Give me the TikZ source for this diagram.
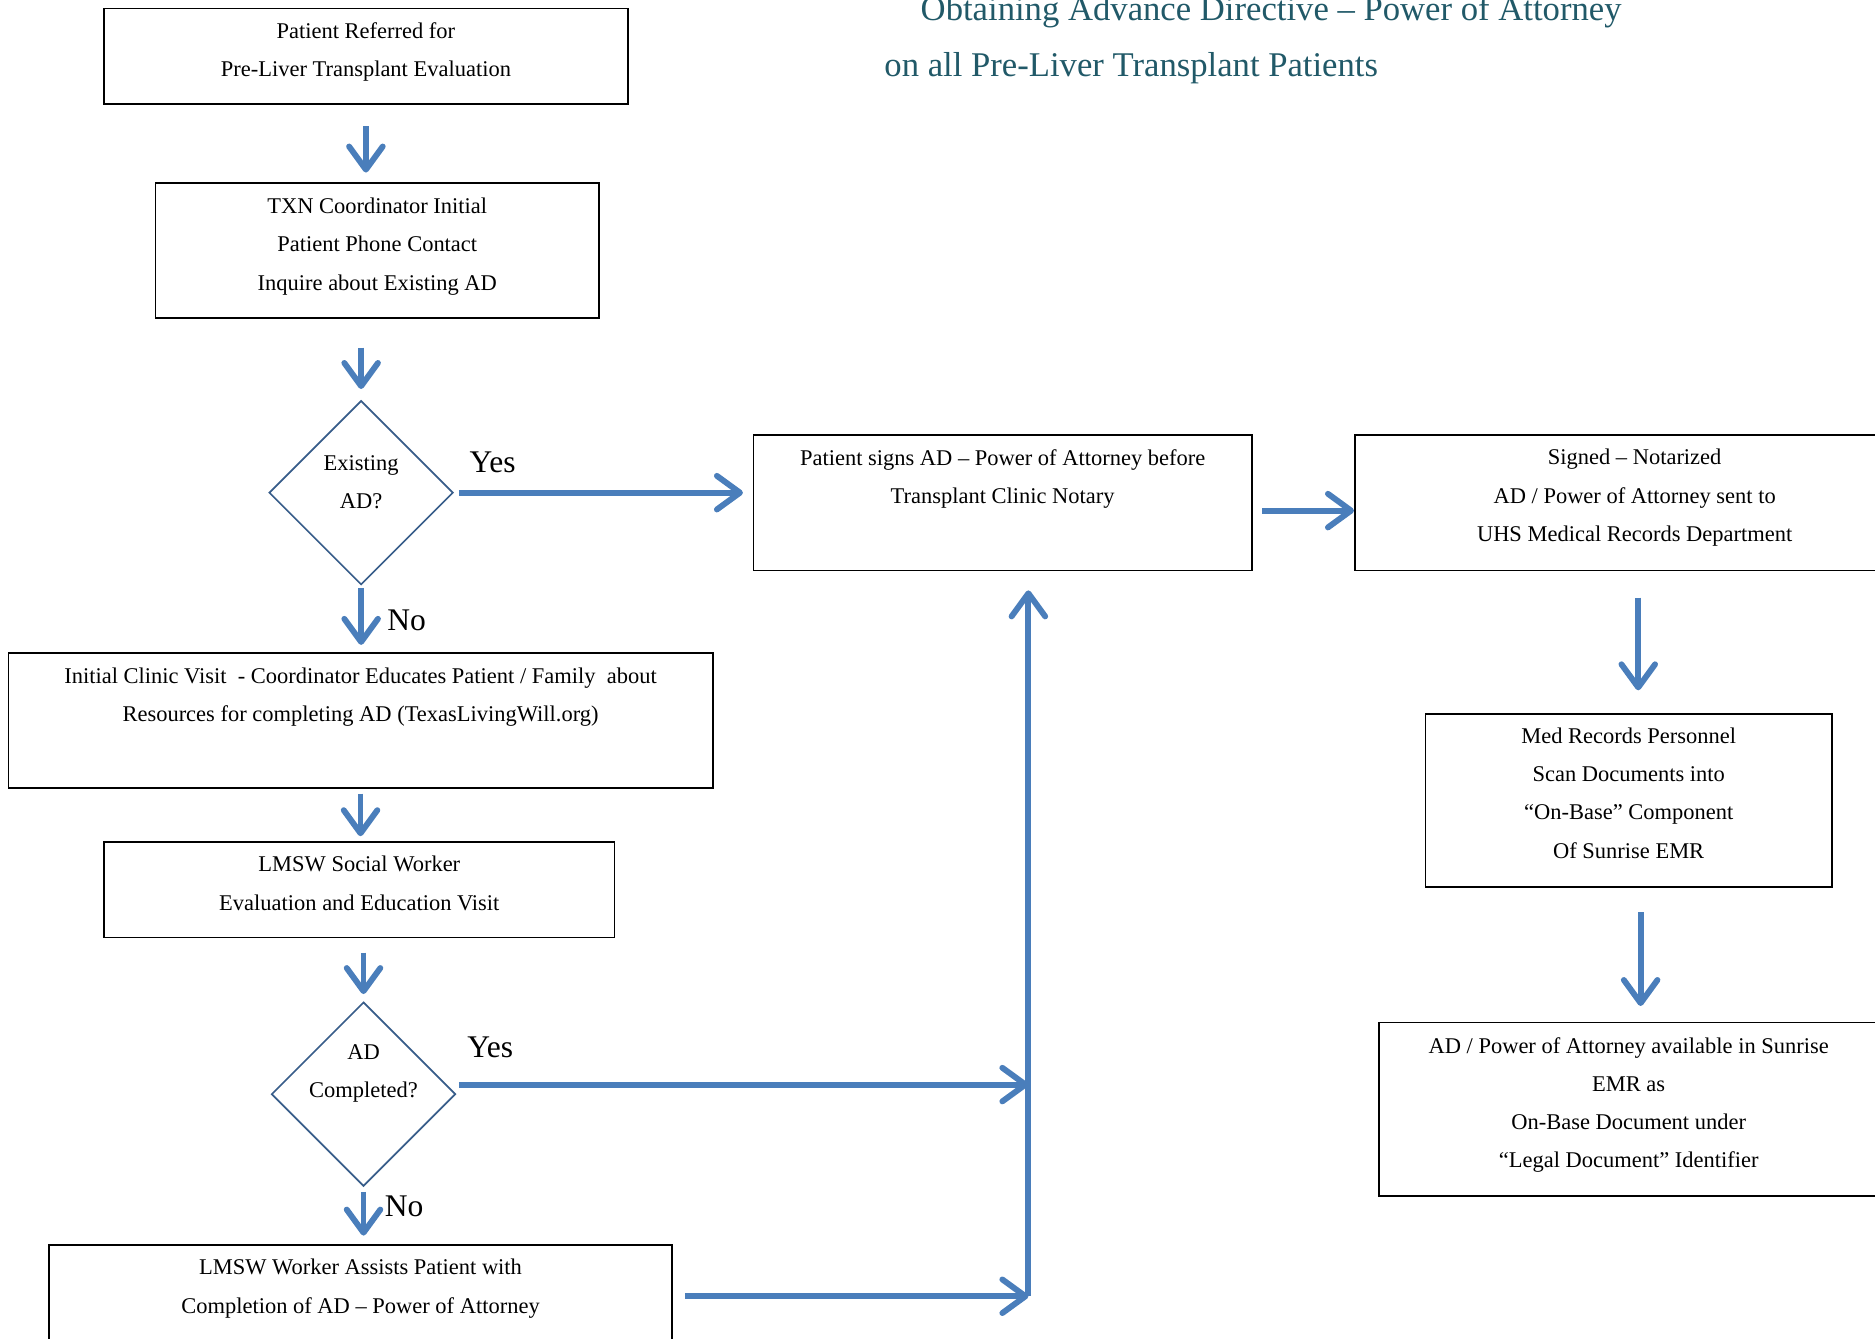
\documentclass[tikz,border=0pt]{standalone}
\usepackage{fontspec}
\setmainfont{Liberation Serif}
\usepackage{tikz}
\usetikzlibrary{positioning,arrows.meta,shapes.geometric}

\definecolor{flowblue}{HTML}{4A7EBB}
\definecolor{edgeblue}{HTML}{385D8A}
\definecolor{titleteal}{HTML}{215968}
\newcommand{\bodyfont}{\fontsize{10.7}{18.2}\selectfont}

\begin{document}
\begin{tikzpicture}[x=0.02cm, y=-0.02cm,
    >={Straight Barb[length=11pt, width=16pt, round]},
    box/.style 2 args={draw, line width=0.8pt, minimum width={#1*0.02cm}, minimum height={#2*0.02cm}, inner sep=0pt, align=center, font=\bodyfont},
    decision/.style={diamond, aspect=1, draw=edgeblue, line width=0.8pt, minimum width=3.08cm, minimum height=3.08cm, inner sep=-30pt, align=center, font=\bodyfont},
    flow/.style={->, draw=flowblue, line width=2.8pt},
    answer/.style={font=\fontsize{15}{18}\selectfont},
    heading/.style={anchor=base, text=titleteal, font=\fontsize{16.5}{20}\selectfont}]
    \useasboundingbox (0,0) rectangle (1568,1119);
    \clip (0,0) rectangle (1568,1119);

    % title
    \node[heading] (title1) at (1063,17) {Obtaining Advance Directive -- Power of Attorney};
    \node[heading] (title2) at (946,64) {on all Pre-Liver Transplant Patients};

    % left column
    \node[box={438}{80}] (referral) at (306,47) {Patient Referred for\\Pre-Liver Transplant Evaluation\\[-12pt]};
    \node[box={371}{113}] (phone) at (315.5,209.5) {TXN Coordinator Initial\\Patient Phone Contact\\Inquire about Existing AD\\[-12pt]};
    \node[decision] (existing) at (302,412) {Existing\\AD?\\[-8pt]};
    \node[box={589}{113}] (educate) at (301.5,602.5) {Initial Clinic Visit~ - Coordinator Educates Patient / Family~ about\\Resources for completing AD (TexasLivingWill.org)\\[6pt]};
    \node[box={427}{80}] (social) at (300.5,744) {LMSW Social Worker\\Evaluation and Education Visit\\[-12pt]};
    \node[decision] (completed) at (304,915) {AD\\Completed?\\[4pt]};
    \node[box={521}{80}] (assist) at (301.5,1081) {LMSW Worker Assists Patient with\\Completion of AD -- Power of Attorney\\[-12pt]};

    % right column
    \node[box={417}{113}] (notary) at (838.5,420.5) {Patient signs AD -- Power of Attorney before\\Transplant Clinic Notary\\[7pt]};
    \node[box={468}{113}] (records) at (1367,420.5) {Signed -- Notarized\\AD / Power of Attorney sent to\\UHS Medical Records Department\\[-11pt]};
    \node[box={340}{145}] (scan) at (1362,669.5) {Med Records Personnel\\Scan Documents into\\``On-Base'' Component\\Of Sunrise EMR\\[-11pt]};
    \node[box={418}{145}] (emr) at (1362,927.5) {AD / Power of Attorney available in Sunrise\\EMR as\\On-Base Document under\\``Legal Document'' Identifier\\[-12pt]};
    \coordinate (merge) at (860,1084);

    % answers
    \node[answer] (yes1) at (412,387) {Yes};
    \node[answer] (no1) at (340,519) {No};
    \node[answer] (yes2) at (410,876) {Yes};
    \node[answer] (no2) at (338,1009) {No};

    % connectors
    \draw[flow, shorten <=0.36cm, shorten >=0.16cm] (referral.south) -- (referral.south |- phone.north);
    \draw[flow, shorten <=0.48cm, shorten >=0.18cm] (existing.north |- phone.south) -- (existing.north);
    \draw[flow, shorten <=0.08cm, shorten >=0.16cm] (existing.east) -- (existing.east -| notary.west);
    \draw[flow, shorten <=0.16cm] ([yshift=-0.13cm]notary.east) -- ([yshift=-0.13cm]records.west);
    \draw[flow, shorten <=0.44cm, shorten >=0.38cm] ([xshift=0.06cm]records.south) -- ([xshift=0.06cm]records.south |- scan.north);
    \draw[flow, shorten <=0.40cm, shorten >=0.26cm] ([xshift=0.1cm]records.south |- scan.south) -- ([xshift=0.1cm]records.south |- emr.north);
    \draw[flow, shorten <=0.04cm, shorten >=0.12cm] (existing.south) -- (existing.south |- educate.north);
    \draw[flow, shorten <=0.08cm, shorten >=0.08cm] (educate.south) -- (educate.south |- social.north);
    \draw[flow, shorten <=0.24cm, shorten >=0.12cm] (completed.north |- social.south) -- (completed.north);
    \draw[flow, shorten <=0.04cm] ([yshift=0.16cm]completed.east) -- ([yshift=0.16cm]completed.east -| merge);
    \draw[flow, shorten <=0.08cm, shorten >=0.14cm] (completed.south) -- (completed.south |- assist.north);
    \draw[flow, shorten <=0.2cm] (assist.east |- merge) -- (merge);
    \draw[flow, shorten >=0.32cm] (merge) -- (merge |- notary.south);
\end{tikzpicture}
\end{document}
